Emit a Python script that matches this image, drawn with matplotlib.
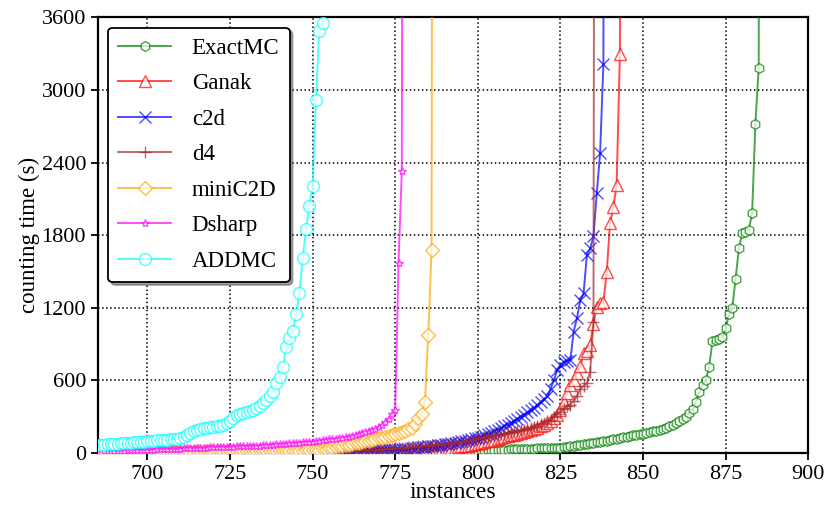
import matplotlib
matplotlib.use('Agg')
import matplotlib.pyplot as plt
from matplotlib.ticker import MultipleLocator

plt.rcParams['font.family'] = ['Liberation Serif', 'DejaVu Serif']

# DATA ______________________________________________________________________
# cactus data: sorted counting times, x = number of solved instances
# every series begins at instance 684; the last value is an unsolved marker
first_instance = 684
UNSOLVED = 20000

exactmc = [1, 1, 1, 1, 1, 1, 1, 1, 1, 1, 1, 1, 1, 1, 2, 2,
           2, 2, 2, 2, 2, 2, 2, 2, 2, 2, 3, 3, 3, 3, 3, 3, 3, 3, 3, 3,
           3, 3, 3, 4, 4, 4, 4, 4, 4, 4, 4, 4, 5, 5, 5, 5, 5, 5, 5, 5,
           5, 5, 6, 6, 6, 6, 6, 6, 6, 7, 7, 7, 7, 7, 7, 7, 8, 8, 8, 8,
           8, 8, 8, 9, 9, 9, 9, 9, 9, 10, 10, 10, 10, 10, 11, 11, 11, 11, 11, 12,
           12, 12, 12, 12, 13, 13, 13, 13, 14, 14, 14, 14, 15, 15, 15, 15,
           16, 17, 18, 19, 20,
           21, 22, 23, 24, 25, 26, 27, 28, 29, 30, 31, 32, 33, 34, 35, 36, 37, 38, 39, 40,
           41, 42, 43, 44, 45,
           48, 52, 56, 60, 64, 68, 72, 76, 80, 84, 88, 92, 96, 101, 106, 112, 118, 124,
           130, 135, 140, 145, 150, 155, 160, 165, 170,
           178, 183, 188, 195, 208, 220, 235, 248, 265, 285, 300, 330, 360, 424, 500,
           560, 600, 713, 925, 935, 945, 960, 1030, 1150, 1200, 1440, 1690, 1815, 1830,
           1845, 1980, 2720, 3185, UNSOLVED]

ganak = [1, 1, 1, 1, 1, 1, 1, 1, 1, 1, 1, 1, 1, 1, 1, 1, 1, 1, 1, 1,
         1, 1, 1, 1, 1, 1, 1, 1, 1, 1, 2, 2, 2, 2, 2, 2, 2, 2, 2, 2,
         2, 2, 2, 2, 2, 2, 3, 3, 3, 3, 3, 3, 3, 3, 3, 3, 4, 4, 4, 4,
         4, 4, 4, 4, 4, 5, 5, 5, 5, 5, 5, 5, 6, 6, 6, 6, 6, 6, 7, 7,
         7, 7, 7, 7, 8, 8, 8, 8, 8, 8, 9, 9, 9, 9, 9, 9, 9, 10, 10, 10,
         10, 12, 14, 17, 20, 24, 28, 33, 38, 44,
         50, 54, 58, 62, 67, 72, 78, 84, 90, 96,
         103, 110, 117, 124, 131, 138, 145, 152, 160, 168,
         176, 184, 192, 200, 210, 220, 232, 245, 265, 290,
         315, 355, 420, 495, 560, 605, 660, 715, 825, 840,
         895, 1070, 1210, 1236, 1250, 1492, 1897, 2034, 2213, 3300, UNSOLVED]

c2d = [2, 2, 2, 3, 3, 3, 3, 3, 4, 4, 4, 4, 4, 5, 5, 5, 5, 5, 6, 6,
       6, 6, 6, 7, 7, 7, 7, 8, 8, 8, 8, 9, 9, 9, 9, 10, 10, 10, 10, 11,
       11, 11, 11, 12, 12, 12, 12, 13, 13, 13, 13, 14, 14, 14, 14, 15, 15, 15, 15, 16,
       16, 16, 16, 17, 17, 17, 17, 18, 18, 18, 18, 19, 19, 19, 19, 20, 20, 20, 20, 21,
       21, 21, 22, 22, 22, 23, 23, 23, 24, 24, 24,
       25, 27, 30, 33, 36, 40, 43, 46, 49, 52, 55, 58, 61, 65, 69, 73, 77, 81, 86, 91,
       96, 101, 107, 113, 120, 128, 136, 145, 155, 166, 178, 192, 206, 220, 235, 250,
       265, 282, 300, 318, 336, 355, 375, 398, 420, 445, 470, 530, 600, 685, 727, 754,
       762, 770, 1002, 1115, 1263, 1318, 1635, 1690, 1792, 2150, 2475, 3218, UNSOLVED]

d4 = [2, 2, 3, 3, 3, 3, 4, 4, 4, 4, 5, 5, 5, 5, 6, 6, 6, 7, 7, 7,
      7, 8, 8, 8, 9, 9, 9, 10, 10, 10, 11, 11, 11, 12, 12, 12, 13, 13, 13, 14,
      14, 14, 15, 15, 15, 16, 16, 16, 17, 17, 17, 18, 18, 18, 19, 19, 19, 20, 20, 20,
      21, 21, 21, 22, 22, 22, 23, 23, 23, 24, 24, 24, 25, 25, 25, 26, 26, 26, 27, 27,
      27, 28, 28, 28, 29, 29, 29,
      30, 32, 34, 36, 38, 40, 43, 45, 48, 50, 52, 55, 57, 60, 62, 65, 67, 70, 72, 75,
      78, 82, 85, 89, 93, 98, 103, 109, 115, 121, 126, 131, 136, 140, 145, 150, 155,
      160, 165, 170, 176, 182, 188, 194, 200, 208, 216, 225, 237, 250, 262, 275, 298,
      320, 340, 365, 385, 400, 430, 470, 530, 555, 575, 671, 1084, UNSOLVED]

minic2d = [5, 5, 5, 6, 6, 6, 6, 7, 7, 7, 7, 8, 8, 8, 8, 9, 9, 9, 9, 10,
           10, 10, 10, 11, 11, 11, 11, 12, 12, 12, 12, 13, 13, 13, 13, 14, 14, 14, 14, 15,
           15, 15, 15, 15, 16, 16, 16, 16, 16, 17, 17, 17, 17, 17, 17, 18, 18, 18, 18, 18,
           18, 18,
           18, 19, 21, 23, 25, 27, 29, 32, 36, 40, 45, 50, 55, 60, 65, 70, 75, 80, 86, 92,
           98, 103, 108, 114, 120, 127, 134, 142, 150, 158, 166, 175, 185, 195, 205, 240,
           290, 320, 424, 974, 1676, UNSOLVED]

dsharp = [10, 11, 12, 13, 14, 15, 16, 18, 19, 20, 21, 22, 23, 24, 25, 26,
          27, 28, 29, 30, 31, 32, 33, 34, 35, 36, 37, 38, 39, 40, 41, 42, 43, 44, 45, 46,
          47, 48, 49, 50, 51,
          52, 53, 54, 55, 56, 57, 58, 59, 60, 62, 64, 66, 68, 70, 72, 74, 76, 78, 80, 82,
          84, 86, 88, 90, 91,
          93, 96, 100, 105, 108, 112, 116, 119, 122, 126, 130, 134, 137, 145, 155, 162,
          172, 180, 188, 200, 215, 232, 255, 280, 320, 355, 1574, 2331, UNSOLVED]

addmc = [63, 65, 67, 69, 71, 73, 75, 77, 79, 81, 83, 85, 87, 89, 91, 94,
         97, 100, 102, 104, 106, 108, 110, 112, 115, 119, 124, 132, 145, 162, 178, 190,
         198, 204, 209, 213, 217, 221, 226, 232, 245,
         265, 290, 310, 325, 332, 338, 345, 355, 370, 390, 410, 440, 470, 500, 575, 630,
         710, 880, 950, 1010, 1150, 1320, 1610, 1850, 2040, 2210, 2920, 3490, 3555, UNSOLVED]
# ____________________________________________________________________________

# PLOT PARAMETERS ____________________________________________________________
series = [
    ('ExactMC', exactmc, 'green', 'h', 7),
    ('Ganak', ganak, 'red', '^', 8),
    ('c2d', c2d, 'blue', 'x', 8),
    ('d4', d4, 'brown', '+', 8),
    ('miniC2D', minic2d, 'orange', 'D', 7.5),
    ('Dsharp', dsharp, 'magenta', '*', 6),
    ('ADDMC', addmc, 'cyan', 'o', 8.5),
]
# ____________________________________________________________________________


def plot():
    fig, ax = plt.subplots(figsize=(8.29, 5.09), dpi=100)
    fig.subplots_adjust(left=0.118, right=0.975, top=0.966, bottom=0.11)

    for name, times, color, marker, ms in series:
        instances = range(first_instance, first_instance + len(times))
        ax.plot(instances, times, color=color, alpha=0.7, linewidth=1.4,
                marker=marker, markersize=ms, markerfacecolor=(1, 1, 1, 0.35),
                markeredgecolor=color, markeredgewidth=1.0,
                label=name, zorder=3)

    ax.set_xlim(685, 900)
    ax.set_ylim(0, 3600)
    ax.xaxis.set_major_locator(MultipleLocator(25))
    ax.yaxis.set_major_locator(MultipleLocator(600))

    ax.grid(which='major', axis='both', linestyle=':', linewidth=1.1, color='black')
    ax.set_axisbelow(True)
    for sp in ax.spines.values():
        sp.set_linewidth(1.6)
    ax.tick_params(direction='out', length=5, width=1.3, labelsize=16)

    ax.set_xlabel('instances', fontsize=17, labelpad=-1)
    ax.set_ylabel('counting time (s)', fontsize=16.5, labelpad=1)

    leg = ax.legend(loc='upper left', fontsize=16.5, fancybox=True, shadow=True,
                    framealpha=1, edgecolor='black', handlelength=2.3,
                    labelspacing=0.63, borderaxespad=0.45, handletextpad=0.9,
                    borderpad=0.45)
    leg.get_frame().set_linewidth(1.3)

    fig.savefig('out.png', dpi=100)


if __name__ == '__main__':
    plot()
